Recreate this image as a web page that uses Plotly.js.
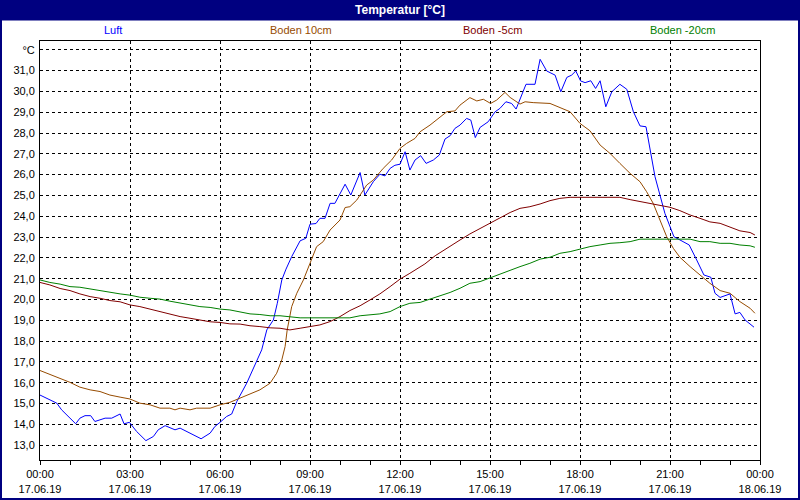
<!DOCTYPE html>
<html>
<head>
<meta charset="utf-8">
<script src="https://cdn.plot.ly/plotly-3.0.1.min.js"></script>
<style>html,body{margin:0;padding:0;background:#fff;}#chart{width:800px;height:500px;}</style>
</head>
<body>
<div id="chart"></div>
<script>
// ---- data (hours after 17.06.19 00:00, temperatures in °C) ----
const seriesNames = ["Luft", "Boden 10cm", "Boden -5cm", "Boden -20cm"];

const luftHours = [0,0.22,0.56,0.72,1.19,1.33,1.5,1.69,1.83,2.0,2.17,2.39,2.67,2.8,2.98,3.22,3.53,3.78,3.94,4.17,4.5,4.67,5.0,5.37,5.67,5.83,6.0,6.22,6.39,6.56,6.89,7.22,7.39,7.56,7.78,7.91,8.06,8.2,8.39,8.67,8.86,9.0,9.2,9.33,9.5,9.67,9.83,10.17,10.36,10.67,10.83,11.11,11.33,11.5,11.67,11.83,12.0,12.17,12.33,12.5,12.69,12.87,13.11,13.31,13.5,13.67,13.83,14.0,14.22,14.36,14.51,14.67,14.94,15.17,15.33,15.53,15.72,15.87,16.2,16.5,16.67,16.89,17.17,17.36,17.56,17.72,17.86,18.02,18.17,18.36,18.52,18.67,18.86,19.06,19.33,19.56,19.78,20.0,20.2,20.5,20.83,21.13,21.33,21.64,21.89,22.13,22.36,22.5,22.67,23.0,23.17,23.33,23.5,23.8];
const luftTemp = [15.41,15.26,15.02,14.70,14.03,14.30,14.42,14.42,14.14,14.22,14.30,14.30,14.50,14.03,14.10,13.66,13.22,13.42,13.74,13.94,13.74,13.82,13.58,13.31,13.58,13.90,14.10,14.38,14.50,15.10,15.98,17.02,17.58,18.54,19.02,19.82,20.94,21.46,22.06,22.82,22.94,23.62,23.65,23.90,23.90,24.62,24.62,25.54,25.02,26.10,25.02,25.66,26.02,25.94,26.30,26.45,26.50,27.10,26.22,26.70,26.91,26.54,26.70,26.94,27.71,27.87,28.22,28.38,28.70,28.62,27.78,28.27,28.54,29.02,29.18,29.50,29.42,29.15,30.34,30.34,31.54,30.98,30.78,29.98,30.67,30.78,30.98,30.50,30.42,30.51,30.14,30.51,29.26,29.98,30.34,30.10,29.02,28.34,28.30,25.90,24.14,23.02,22.86,22.62,21.90,21.18,21.07,20.30,20.10,20.27,19.31,19.38,19.02,18.67];

const boden10Hours = [0,0.56,1.0,1.33,1.67,2.0,2.33,2.67,3.0,3.33,3.67,4.0,4.33,4.5,4.67,5.0,5.22,5.67,6.0,6.33,6.67,7.0,7.33,7.67,7.89,8.06,8.17,8.24,8.39,8.56,8.78,9.0,9.22,9.44,9.67,10.0,10.17,10.33,10.56,10.89,11.11,11.44,11.72,12.0,12.22,12.5,12.67,13.0,13.22,13.56,13.83,14.0,14.33,14.56,14.78,15.02,15.22,15.5,15.67,16.0,16.17,16.44,17.0,17.22,17.67,18.0,18.33,18.67,19.0,19.33,19.67,20.0,20.22,20.44,20.67,20.89,21.11,21.33,21.67,22.0,22.33,22.67,23.0,23.33,23.67,23.83];
const boden10Temp = [16.59,16.27,16.02,15.79,15.66,15.58,15.41,15.31,15.22,15.02,14.94,14.78,14.78,14.70,14.78,14.70,14.78,14.78,14.94,15.06,15.26,15.47,15.66,15.98,16.46,17.10,17.74,18.54,19.66,20.30,20.94,21.74,22.54,22.78,23.34,23.82,24.42,24.46,24.78,25.50,25.74,26.30,26.70,27.26,27.50,27.74,28.06,28.38,28.62,29.02,29.06,29.34,29.70,29.54,29.62,29.42,29.58,29.95,29.71,29.39,29.50,29.46,29.42,29.30,29.02,28.46,28.11,27.42,27.02,26.54,26.06,25.66,25.18,24.62,23.82,23.02,22.46,22.03,21.58,21.18,20.78,20.43,20.30,19.90,19.58,19.34];

const boden5Hours = [0,0.33,0.67,1.0,1.33,1.67,2.0,2.33,2.67,3.0,3.33,3.67,4.0,4.33,4.67,5.0,5.33,5.67,6.0,6.33,6.67,7.0,7.33,7.67,8.0,8.33,8.67,9.0,9.33,9.67,10.0,10.33,10.67,11.0,11.33,11.67,12.0,12.33,12.83,13.17,13.67,14.0,14.33,14.67,15.0,15.33,15.67,16.0,16.33,16.67,17.0,17.33,17.67,18.0,18.33,18.67,19.0,19.33,19.67,20.0,20.33,20.67,21.0,21.33,21.67,22.0,22.33,22.67,23.0,23.33,23.67,23.83];
const boden5Temp = [20.82,20.70,20.53,20.43,20.27,20.14,20.06,19.95,19.89,19.74,19.66,19.54,19.41,19.31,19.18,19.10,19.02,18.93,18.90,18.83,18.82,18.74,18.70,18.64,18.62,18.54,18.62,18.70,18.78,18.94,19.18,19.47,19.70,19.98,20.27,20.62,20.98,21.26,21.71,22.10,22.58,22.86,23.15,23.42,23.66,23.95,24.18,24.38,24.46,24.59,24.75,24.86,24.91,24.91,24.91,24.91,24.91,24.91,24.80,24.70,24.62,24.50,24.43,24.27,24.06,23.90,23.73,23.66,23.47,23.30,23.22,23.10];

const boden20Hours = [0,0.33,0.67,1.0,1.33,1.67,2.0,2.33,2.67,3.0,3.33,3.67,4.0,4.33,4.67,5.0,5.33,5.67,6.0,6.33,6.67,7.0,7.33,7.67,8.0,8.33,8.67,9.0,9.33,9.67,10.0,10.33,10.67,11.0,11.33,11.67,12.0,12.33,12.67,13.0,13.33,13.67,14.0,14.33,14.67,15.0,15.33,15.67,16.0,16.33,16.67,17.0,17.33,17.67,18.0,18.33,18.67,19.0,19.33,19.67,20.0,20.33,20.67,21.0,21.33,21.67,22.0,22.33,22.67,23.0,23.33,23.67,23.83];
const boden20Temp = [20.94,20.82,20.74,20.62,20.59,20.50,20.43,20.34,20.27,20.21,20.11,20.06,20.02,19.92,19.82,19.73,19.66,19.62,19.54,19.50,19.41,19.31,19.28,19.22,19.22,19.18,19.12,19.12,19.12,19.12,19.12,19.12,19.22,19.25,19.31,19.42,19.66,19.82,19.86,20.02,20.18,20.34,20.54,20.78,20.86,21.04,21.23,21.42,21.58,21.74,21.94,22.03,22.22,22.30,22.42,22.54,22.62,22.70,22.73,22.78,22.90,22.90,22.90,22.90,22.90,22.90,22.78,22.78,22.70,22.70,22.62,22.58,22.51];

const xTickVals = [0,3,6,9,12,15,18,21,24];
const xTickText = ["00:00<br>17.06.19","03:00<br>17.06.19","06:00<br>17.06.19","09:00<br>17.06.19","12:00<br>17.06.19","15:00<br>17.06.19","18:00<br>17.06.19","21:00<br>17.06.19","00:00<br>18.06.19"];
const xMinorVals = [1,2,4,5,7,8,10,11,13,14,16,17,19,20,22,23];
const yTickVals = [13,14,15,16,17,18,19,20,21,22,23,24,25,26,27,28,29,30,31,32];
const yTickText = ["13,0","14,0","15,0","16,0","17,0","18,0","19,0","20,0","21,0","22,0","23,0","24,0","25,0","26,0","27,0","28,0","29,0","30,0","31,0","°C"];

// ---- styling ----
const colors = ["#0000FF", "#964B00", "#800000", "#008000"];
const xs = [luftHours, boden10Hours, boden5Hours, boden20Hours];
const ys = [luftTemp, boden10Temp, boden5Temp, boden20Temp];
const FONT = "Liberation Sans, Arial, sans-serif";

const traces = seriesNames.map((n, i) => ({
  type: "scatter", mode: "lines", name: n,
  x: xs[i], y: ys[i],
  line: {color: colors[i], width: 1, shape: "linear"},
  hoverinfo: "skip"
}));

// plot area: x 40..760 px, y 41..460 px
const px = v => (v - 40) / 720;
const py = v => (460 - v) / 419;
const legendX = [113, 301, 492, 682];

const annotations = seriesNames.map((n, i) => ({
  text: n, xref: "paper", yref: "paper",
  x: px(legendX[i]), y: py(30), xanchor: "center", yanchor: "middle",
  showarrow: false, font: {family: FONT, size: 11, color: colors[i]}
}));

const layout = {
  width: 800, height: 500,
  margin: {l: 40, r: 40, t: 41, b: 40, pad: 0},
  paper_bgcolor: "#ffffff", plot_bgcolor: "#ffffff",
  showlegend: false,
  title: {text: "<b>Temperatur [°C]</b>", x: 0.5, xanchor: "center", y: 1 - 10/500, yanchor: "middle",
          yref: "container", font: {family: FONT, size: 12, color: "#ffffff"}},
  font: {family: FONT, size: 11, color: "#000000"},
  xaxis: {
    range: [0, 24], tickmode: "array", tickvals: xTickVals, ticktext: xTickText,
    showgrid: true, gridcolor: "#000000", griddash: "3px,3px", gridwidth: 1,
    zeroline: false, showline: true, linecolor: "#000000", linewidth: 1, mirror: true,
    ticks: "outside", ticklen: 4, tickcolor: "#000000", tickwidth: 1,
    minor: {tickmode: "array", tickvals: xMinorVals, ticks: "outside", ticklen: 4, tickcolor: "#000000", tickwidth: 1, showgrid: false},
    tickfont: {family: FONT, size: 11, color: "#000000"}, fixedrange: true
  },
  yaxis: {
    range: [12.29, 32.42], tickmode: "array", tickvals: yTickVals, ticktext: yTickText,
    showgrid: true, gridcolor: "#000000", griddash: "3px,3px", gridwidth: 1,
    zeroline: false, showline: true, linecolor: "#000000", linewidth: 1, mirror: true,
    ticks: "", ticklabelstandoff: 2,
    tickfont: {family: FONT, size: 11, color: "#000000"}, fixedrange: true
  },
  annotations: annotations,
  shapes: [
    {type: "rect", xref: "paper", yref: "paper", layer: "below",
     x0: px(0), x1: px(800), y0: py(20.5), y1: py(0), fillcolor: "#000080", line: {width: 0}},
    {type: "rect", xref: "paper", yref: "paper", layer: "above",
     x0: px(1), x1: px(799), y0: py(499), y1: py(1), fillcolor: "rgba(0,0,0,0)", line: {color: "#000080", width: 2}}
  ]
};

Plotly.newPlot("chart", traces, layout, {displayModeBar: false, staticPlot: true});
</script>
</body>
</html>
